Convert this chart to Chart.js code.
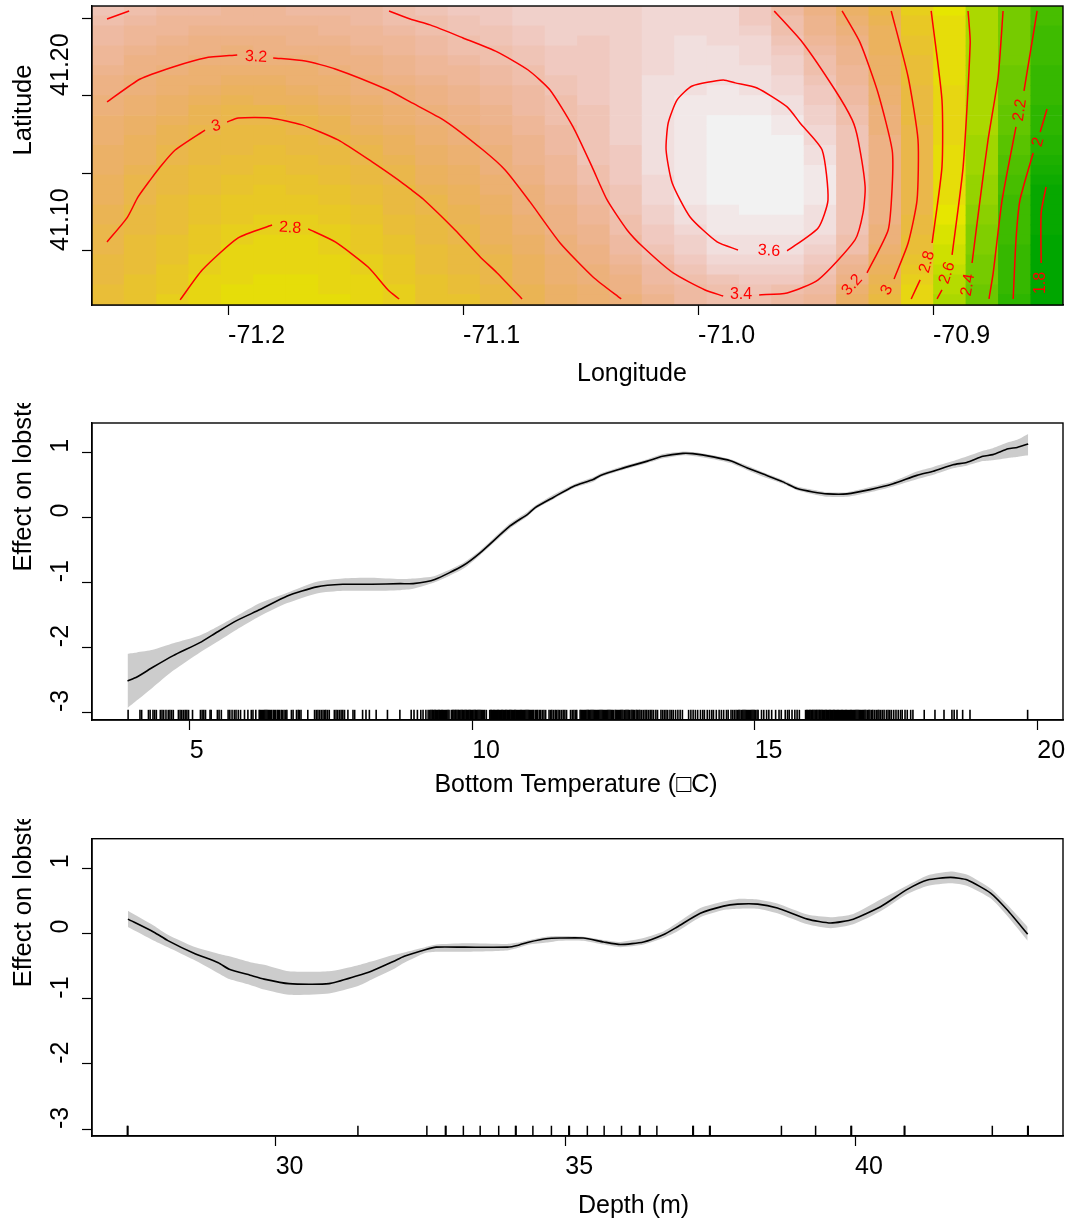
<!DOCTYPE html>
<html>
<head>
<meta charset="utf-8">
<title>Lobster GAM effects</title>
<script src="https://cdn.jsdelivr.net/npm/chart.js@4"></script>
<style>
    body { margin: 0; background: #fff; }
    canvas { position: absolute; left: 0; display: block; }
</style>
</head>
<body>
<canvas id="mapChart" width="1068" height="395" style="top:0"></canvas>
<canvas id="tempChart" width="1068" height="402" style="top:403px"></canvas>
<canvas id="depthChart" width="1068" height="403" style="top:819px"></canvas>
<script>
// grid of the map, cell centres
const lonGrid = [-71.2510, -71.2372, -71.2234, -71.2097, -71.1959, -71.1821, -71.1683, -71.1545, -71.1408, -71.1270, -71.1132, -71.0994, -71.0857, -71.0719, -71.0581, -71.0443, -71.0305, -71.0168, -71.0030, -70.9892, -70.9754, -70.9617, -70.9479, -70.9341, -70.9203, -70.9065, -70.8928, -70.8790, -70.8652, -70.8514];
const latGrid = [41.2548, 41.2484, 41.2420, 41.2355, 41.2291, 41.2227, 41.2163, 41.2098, 41.2034, 41.1970, 41.1906, 41.1841, 41.1777, 41.1713, 41.1649, 41.1584, 41.1520, 41.1456, 41.1392, 41.1327, 41.1263, 41.1199, 41.1135, 41.1070, 41.1006, 41.0942, 41.0878, 41.0813, 41.0749, 41.0685];

// one row per longitude, north to south
const effectGrid = [
    [3.42,3.40,3.37,3.35,3.32,3.30,3.27,3.25,3.23,3.20,3.19,3.17,3.16,3.15,3.13,3.12,3.10,3.09,3.07,3.06,3.05,3.03,3.02,3.00,2.99,2.98,2.96,2.95,2.93,2.92],
    [3.39,3.36,3.33,3.31,3.28,3.25,3.22,3.20,3.18,3.16,3.14,3.13,3.11,3.09,3.07,3.06,3.04,3.02,3.01,2.99,2.98,2.97,2.96,2.94,2.93,2.92,2.91,2.89,2.88,2.87],
    [3.36,3.33,3.30,3.27,3.25,3.22,3.19,3.17,3.15,3.12,3.10,3.07,3.05,3.03,3.00,2.99,2.98,2.97,2.96,2.94,2.93,2.92,2.91,2.90,2.88,2.87,2.86,2.85,2.84,2.82],
    [3.34,3.31,3.28,3.25,3.22,3.19,3.16,3.14,3.11,3.08,3.05,3.03,3.00,2.98,2.97,2.95,2.94,2.92,2.91,2.90,2.88,2.87,2.85,2.84,2.83,2.81,2.80,2.78,2.77,2.76],
    [3.33,3.30,3.27,3.24,3.21,3.18,3.15,3.12,3.09,3.05,3.02,3.00,2.98,2.96,2.95,2.93,2.91,2.90,2.88,2.86,2.84,2.83,2.81,2.80,2.78,2.77,2.76,2.75,2.74,2.73],
    [3.33,3.30,3.27,3.25,3.22,3.19,3.15,3.12,3.09,3.06,3.02,3.00,2.97,2.96,2.94,2.92,2.90,2.88,2.86,2.85,2.83,2.81,2.79,2.78,2.77,2.76,2.75,2.73,2.72,2.71],
    [3.34,3.31,3.29,3.26,3.23,3.20,3.17,3.14,3.11,3.08,3.04,3.01,2.99,2.97,2.95,2.93,2.91,2.89,2.87,2.85,2.83,2.81,2.79,2.78,2.77,2.76,2.75,2.74,2.73,2.72],
    [3.35,3.33,3.30,3.28,3.25,3.22,3.19,3.17,3.14,3.11,3.08,3.05,3.03,3.00,2.98,2.96,2.94,2.92,2.90,2.88,2.86,2.84,2.82,2.80,2.79,2.78,2.77,2.76,2.75,2.74],
    [3.37,3.35,3.33,3.30,3.28,3.25,3.23,3.20,3.18,3.15,3.13,3.10,3.07,3.05,3.02,3.00,2.98,2.96,2.94,2.92,2.90,2.88,2.86,2.85,2.83,2.81,2.79,2.78,2.77,2.76],
    [3.41,3.38,3.36,3.33,3.31,3.28,3.26,3.24,3.21,3.19,3.16,3.14,3.12,3.09,3.07,3.05,3.02,3.00,2.98,2.96,2.95,2.93,2.91,2.90,2.88,2.86,2.85,2.83,2.81,2.80],
    [3.43,3.41,3.39,3.37,3.34,3.32,3.30,3.28,3.25,3.23,3.20,3.18,3.16,3.14,3.12,3.10,3.08,3.06,3.04,3.01,2.99,2.98,2.96,2.95,2.93,2.92,2.91,2.90,2.88,2.87],
    [3.46,3.44,3.42,3.40,3.38,3.35,3.33,3.31,3.29,3.27,3.25,3.23,3.20,3.19,3.17,3.15,3.13,3.11,3.09,3.07,3.05,3.04,3.02,3.00,2.98,2.97,2.95,2.93,2.91,2.90],
    [3.49,3.47,3.45,3.43,3.40,3.38,3.36,3.35,3.33,3.31,3.29,3.27,3.25,3.23,3.21,3.20,3.18,3.16,3.14,3.13,3.11,3.09,3.07,3.06,3.04,3.02,3.00,2.99,2.97,2.96],
    [3.52,3.50,3.48,3.46,3.44,3.42,3.40,3.38,3.37,3.35,3.34,3.32,3.31,3.29,3.28,3.26,3.24,3.23,3.21,3.20,3.18,3.16,3.15,3.13,3.11,3.09,3.08,3.06,3.04,3.03],
    [3.53,3.52,3.51,3.50,3.49,3.47,3.46,3.44,3.42,3.41,3.40,3.38,3.37,3.35,3.34,3.33,3.31,3.30,3.28,3.27,3.25,3.24,3.22,3.20,3.19,3.17,3.15,3.14,3.12,3.10],
    [3.52,3.51,3.50,3.48,3.48,3.47,3.47,3.47,3.46,3.46,3.45,3.45,3.44,3.44,3.43,3.42,3.40,3.38,3.36,3.34,3.32,3.30,3.29,3.27,3.25,3.23,3.21,3.19,3.17,3.16],
    [3.53,3.53,3.53,3.53,3.53,3.53,3.53,3.53,3.53,3.52,3.52,3.52,3.51,3.51,3.47,3.47,3.47,3.46,3.45,3.44,3.42,3.41,3.39,3.36,3.34,3.31,3.28,3.25,3.22,3.20],
    [3.55,3.55,3.56,3.56,3.57,3.57,3.57,3.58,3.58,3.58,3.58,3.58,3.59,3.59,3.59,3.58,3.58,3.57,3.56,3.55,3.53,3.51,3.49,3.47,3.44,3.40,3.37,3.34,3.30,3.27],
    [3.55,3.56,3.57,3.58,3.58,3.59,3.59,3.60,3.61,3.62,3.63,3.64,3.65,3.65,3.65,3.65,3.65,3.64,3.63,3.62,3.61,3.59,3.56,3.53,3.50,3.46,3.43,3.41,3.37,3.34],
    [3.54,3.55,3.56,3.57,3.58,3.58,3.59,3.60,3.62,3.63,3.65,3.66,3.67,3.68,3.68,3.68,3.68,3.68,3.67,3.66,3.65,3.64,3.62,3.61,3.58,3.54,3.50,3.45,3.41,3.39],
    [3.47,3.49,3.52,3.54,3.56,3.57,3.58,3.59,3.61,3.63,3.65,3.66,3.67,3.68,3.69,3.69,3.69,3.69,3.69,3.68,3.67,3.65,3.63,3.61,3.60,3.55,3.50,3.46,3.42,3.40],
    [3.35,3.38,3.41,3.44,3.47,3.50,3.52,3.54,3.56,3.58,3.61,3.62,3.64,3.66,3.67,3.68,3.68,3.68,3.68,3.67,3.66,3.64,3.63,3.61,3.60,3.56,3.51,3.46,3.41,3.37],
    [3.24,3.26,3.29,3.32,3.35,3.38,3.41,3.44,3.46,3.49,3.51,3.53,3.55,3.57,3.60,3.61,3.62,3.62,3.62,3.62,3.61,3.61,3.58,3.55,3.51,3.47,3.43,3.39,3.35,3.31],
    [3.13,3.17,3.21,3.24,3.26,3.28,3.30,3.33,3.35,3.37,3.38,3.40,3.42,3.43,3.44,3.45,3.45,3.45,3.45,3.45,3.44,3.43,3.42,3.41,3.38,3.33,3.28,3.22,3.16,3.10],
    [3.02,3.04,3.06,3.07,3.09,3.10,3.12,3.13,3.15,3.16,3.18,3.20,3.21,3.22,3.23,3.24,3.24,3.24,3.24,3.23,3.23,3.22,3.21,3.19,3.16,3.13,3.09,3.05,3.00,2.96],
    [2.82,2.84,2.86,2.88,2.90,2.91,2.93,2.94,2.95,2.96,2.97,2.98,3.00,3.01,3.01,3.01,3.02,3.01,3.01,3.00,2.99,2.98,2.96,2.94,2.92,2.89,2.86,2.82,2.78,2.75],
    [2.70,2.71,2.71,2.72,2.72,2.73,2.73,2.74,2.75,2.75,2.75,2.75,2.75,2.75,2.74,2.74,2.73,2.73,2.72,2.71,2.70,2.68,2.66,2.64,2.62,2.60,2.57,2.54,2.52,2.50],
    [2.50,2.50,2.50,2.50,2.50,2.50,2.49,2.49,2.49,2.48,2.48,2.48,2.47,2.46,2.45,2.44,2.43,2.42,2.41,2.39,2.38,2.37,2.35,2.34,2.33,2.31,2.30,2.29,2.27,2.26],
    [2.31,2.30,2.30,2.29,2.29,2.28,2.27,2.26,2.25,2.24,2.23,2.22,2.20,2.19,2.18,2.15,2.13,2.11,2.08,2.07,2.06,2.05,2.04,2.04,2.03,2.02,2.01,2.00,2.00,1.99],
    [2.09,2.08,2.07,2.06,2.05,2.04,2.03,2.02,2.01,2.00,1.99,1.97,1.96,1.94,1.92,1.89,1.85,1.81,1.79,1.78,1.77,1.76,1.76,1.75,1.75,1.74,1.74,1.73,1.73,1.72]
];

// contour pieces as [lon, lat], split where a label sits on the line
const contourLines = [
    [[-71.2204,41.0684],[-71.2110,41.0877],[-71.1957,41.1084],[-71.1813,41.1167]],
    [[-71.1659,41.1142],[-71.1544,41.1058],[-71.1404,41.0896],[-71.1319,41.0748],[-71.1272,41.0690]],
    [[-71.2515,41.1058],[-71.2430,41.1213],[-71.2383,41.1348],[-71.2330,41.1460],[-71.2290,41.1540],[-71.2225,41.1651],[-71.2098,41.1780]],
    [[-71.2004,41.1832],[-71.1957,41.1858],[-71.1821,41.1858],[-71.1685,41.1813],[-71.1532,41.1716],[-71.1387,41.1574],[-71.1276,41.1458],[-71.1225,41.1400],[-71.1170,41.1335],[-71.1034,41.1135],[-71.0927,41.0961],[-71.0855,41.0858],[-71.0749,41.0690]],
    [[-71.2515,41.1961],[-71.2374,41.2109],[-71.2234,41.2187],[-71.2098,41.2245],[-71.1961,41.2264]],
    [[-71.1808,41.2245],[-71.1672,41.2225],[-71.1544,41.2174],[-71.1319,41.2038],[-71.1225,41.1961],[-71.1076,41.1838],[-71.0915,41.1651],[-71.0821,41.1522],[-71.0715,41.1316],[-71.0587,41.1051],[-71.0447,41.0832],[-71.0327,41.0690]],
    [[-71.2515,41.2496],[-71.2421,41.2548]],
    [[-71.1315,41.2548],[-71.1225,41.2496],[-71.1140,41.2458],[-71.1000,41.2374],[-71.0855,41.2284],[-71.0723,41.2167],[-71.0630,41.2038],[-71.0532,41.1800],[-71.0451,41.1542],[-71.0387,41.1329],[-71.0302,41.1135],[-71.0234,41.1025],[-71.0106,41.0858],[-70.9970,41.0748],[-70.9893,41.0709]],
    [[-70.9740,41.0716],[-70.9621,41.0729],[-70.9489,41.0813],[-70.9332,41.1071],[-70.9298,41.1245],[-70.9289,41.1413],[-70.9319,41.1716],[-70.9344,41.1845],[-70.9417,41.2038],[-70.9557,41.2348],[-70.9676,41.2548]],
    [[-70.9621,41.1000],[-70.9489,41.1148],[-70.9447,41.1329],[-70.9472,41.1651],[-70.9566,41.1825],[-70.9621,41.1929],[-70.9749,41.2051],[-70.9842,41.2084],[-70.9893,41.2103],[-71.0025,41.2064],[-71.0089,41.1974],[-71.0127,41.1825],[-71.0136,41.1651],[-71.0110,41.1438],[-71.0034,41.1219],[-70.9919,41.1058],[-70.9830,41.1006]],
    [[-70.9387,41.2548],[-70.9310,41.2342],[-70.9234,41.2019],[-70.9174,41.1651],[-70.9174,41.1413],[-70.9191,41.1135],[-70.9281,41.0858]],
    [[-70.9178,41.2548],[-70.9106,41.2122],[-70.9064,41.1716],[-70.9068,41.1329],[-70.9106,41.1051],[-70.9166,41.0819]],
    [[-70.9008,41.2548],[-70.8962,41.1974],[-70.8962,41.1542],[-70.9004,41.1051]],
    [[-70.9055,41.0813],[-70.9093,41.0690]],
    [[-70.8851,41.2548],[-70.8842,41.2342],[-70.8872,41.1542],[-70.8919,41.0974]],
    [[-70.8962,41.0748],[-70.8983,41.0690]],
    [[-70.8702,41.2548],[-70.8723,41.2122],[-70.8766,41.1716],[-70.8800,41.1329],[-70.8834,41.0922]],
    [[-70.8557,41.2548],[-70.8613,41.2032]],
    [[-70.8647,41.1800],[-70.8706,41.1329],[-70.8744,41.0858],[-70.8762,41.0690]],
    [[-70.8515,41.1916],[-70.8544,41.1767]],
    [[-70.8574,41.1632],[-70.8630,41.1329],[-70.8647,41.1071],[-70.8659,41.0690]],
    [[-70.8519,41.1413],[-70.8540,41.1245],[-70.8540,41.0922]]
];

const contourText = ['3.2', '3', '2.8', '3.6', '3.4', '3.2', '3', '2.8', '2.6', '2.4', '2.2', '2', '1.8'];
const contourLon = [-71.1881, -71.2051, -71.1736, -70.9698, -70.9817, -70.9344, -70.9196, -70.9025, -70.8940, -70.8851, -70.8630, -70.8553, -70.8544];
const contourLat = [41.2251, 41.1806, 41.1148, 41.1000, 41.0716, 41.0780, 41.0748, 41.0929, 41.0858, 41.0780, 41.1909, 41.1703, 41.0793];
const contourAngle = [3, -15, 4, 4, 0, -48, -62, -75, -72, -80, -82, -75, -90];

const lonTicks = [-71.2, -71.1, -71.0, -70.9];
const latTicks = [41.25, 41.20, 41.15, 41.10];
const latLabelled = [41.20, 41.10];

// bottom temperature panel
const tempX = [3.90, 4.066, 4.347, 4.709, 5.18, 5.48, 5.83, 6.245, 6.727, 7.25, 7.71, 8.22, 8.724, 8.955, 9.337, 9.84, 10.14, 10.67, 10.98, 11.11, 11.435, 11.79, 12.14, 12.27, 12.62, 13.10, 13.37, 13.73, 13.905, 14.265, 14.57, 14.87, 15.15, 15.50, 15.75, 16.03, 16.29, 16.635, 17.04, 17.45, 17.87, 18.16, 18.51, 18.75, 19.04, 19.215, 19.485, 19.645, 19.84];
const tempFit = [-2.52, -2.46, -2.31, -2.13, -1.93, -1.77, -1.59, -1.42, -1.21, -1.07, -1.03, -1.03, -1.02, -1.02, -.955, -.74, -.545, -.13, .05, .15, .31, .48, .585, .65, .75, .87, .945, .99, .985, .935, .875, .765, .67, .55, .447, .395, .365, .365, .43, .52, .65, .715, .815, .85, .945, .97, 1.06, 1.08, 1.135];
const tempUpper = [-2.10, -2.08, -2.04, -1.94, -1.82, -1.69, -1.52, -1.32, -1.16, -.99, -.94, -.93, -.95, -.94, -.90, -.70, -.51, -.09, .09, .18, .35, .51, .62, .68, .78, .90, .98, 1.02, 1.01, .96, .90, .80, .70, .58, .48, .43, .39, .39, .47, .56, .71, .78, .87, .94, 1.03, 1.07, 1.16, 1.20, 1.29];
const tempLower = [-2.94, -2.82, -2.62, -2.36, -2.08, -1.92, -1.73, -1.52, -1.32, -1.17, -1.13, -1.13, -1.12, -1.10, -1.00, -.79, -.58, -.17, .02, .12, .28, .45, .55, .62, .72, .84, .91, .96, .95, .90, .84, .73, .63, .52, .42, .36, .32, .32, .39, .48, .59, .66, .76, .80, .87, .885, .92, .935, .96];
const tempRug = [3.91, 4.12, 4.15, 4.27, 4.30, 4.35, 4.38, 4.41, 4.48, 4.51, 4.54, 4.58, 4.62, 4.65, 4.68, 4.71, 4.80, 4.83, 4.86, 4.89, 4.92, 4.95, 4.98, 5.05, 5.19, 5.22, 5.25, 5.28, 5.36, 5.38, 5.49, 5.52, 5.56, 5.68, 5.71, 5.75, 5.79, 5.82, 5.86, 5.90, 5.97, 6.03, 6.09, 6.12, 6.17, 6.23, 6.25, 6.27, 6.29, 6.31, 6.33, 6.35, 6.37, 6.39, 6.41, 6.43, 6.45, 6.48, 6.50, 6.52, 6.55, 6.57, 6.59, 6.62, 6.64, 6.67, 6.70, 6.72, 6.80, 6.83, 6.89, 6.92, 6.94, 6.97, 7.09, 7.21, 7.24, 7.27, 7.30, 7.33, 7.36, 7.39, 7.41, 7.44, 7.47, 7.56, 7.59, 7.62, 7.65, 7.68, 7.71, 7.74, 7.80, 7.89, 7.92, 8.06, 8.12, 8.18, 8.30, 8.50, 8.72, 8.92, 8.97, 9.03, 9.09, 9.13, 9.18, 9.22, 9.25,
    9.27, 9.29, 9.30, 9.32, 9.34, 9.35, 9.37, 9.39, 9.41, 9.42, 9.44, 9.46, 9.47, 9.49, 9.51, 9.53, 9.55, 9.57, 9.59, 9.63, 9.65, 9.66, 9.68, 9.70, 9.71, 9.73, 9.75, 9.76, 9.78, 9.80, 9.82, 9.83, 9.85, 9.87, 9.89, 9.90, 9.92, 9.94, 9.96, 9.97, 9.99, 10.01, 10.03, 10.05, 10.06, 10.08, 10.10, 10.12, 10.14, 10.16, 10.18, 10.20, 10.22, 10.25,
    10.31, 10.33, 10.34, 10.36, 10.38, 10.39, 10.41, 10.43, 10.45, 10.46, 10.48, 10.50, 10.52, 10.53, 10.55, 10.57, 10.59, 10.60, 10.62, 10.64, 10.66, 10.67, 10.69, 10.71, 10.73, 10.75, 10.76, 10.78, 10.80, 10.82, 10.84, 10.86, 10.87, 10.89, 10.91, 10.93, 10.95, 10.97, 10.99, 11.01, 11.03, 11.05, 11.07, 11.09, 11.12, 11.14, 11.16, 11.19, 11.21, 11.24, 11.27, 11.30,
    11.36, 11.39, 11.41, 11.44, 11.47, 11.49, 11.52, 11.55, 11.58, 11.61, 11.64, 11.67, 11.74, 11.77, 11.80, 11.83, 11.85, 11.91, 11.93, 11.95, 11.97, 11.99, 12.01, 12.03, 12.05, 12.06, 12.08, 12.10, 12.12, 12.14, 12.16, 12.18, 12.20, 12.22, 12.24, 12.26, 12.28, 12.30, 12.32, 12.34, 12.36, 12.38, 12.40, 12.42, 12.44, 12.46, 12.48, 12.50, 12.53, 12.55, 12.57, 12.59, 12.61, 12.63, 12.65, 12.67, 12.70, 12.72, 12.74, 12.76, 12.78, 12.81, 12.83, 12.85, 12.87, 12.90, 12.92, 12.95, 12.97, 13.00, 13.03, 13.06, 13.09, 13.12, 13.15, 13.18, 13.21, 13.25, 13.28,
    13.34, 13.37, 13.40, 13.43, 13.46, 13.50, 13.53, 13.56, 13.60, 13.64, 13.68, 13.72, 13.83, 13.87, 13.91, 13.95, 13.99, 14.04, 14.08, 14.11, 14.16, 14.20, 14.24, 14.27, 14.32, 14.37, 14.41, 14.45, 14.50, 14.53, 14.58, 14.61, 14.64, 14.67, 14.70, 14.72, 14.74, 14.77, 14.79, 14.81, 14.83, 14.85, 14.87, 14.89, 14.91, 14.93, 14.95, 14.97, 14.99, 15.01, 15.04, 15.06, 15.12, 15.16, 15.21, 15.25, 15.30, 15.37, 15.43, 15.47, 15.54, 15.58, 15.61, 15.66, 15.71, 15.75, 15.79,
    15.90, 15.92, 15.93, 15.95, 15.97, 15.98, 16.00, 16.02, 16.03, 16.05, 16.07, 16.09, 16.10, 16.12, 16.14, 16.15, 16.17, 16.19, 16.20, 16.22, 16.24, 16.26, 16.27, 16.29, 16.31, 16.33, 16.34, 16.36, 16.38, 16.40, 16.41, 16.43, 16.45, 16.47, 16.48, 16.50, 16.52, 16.54, 16.55, 16.57, 16.59, 16.61, 16.62, 16.64, 16.66, 16.68, 16.70, 16.71, 16.73, 16.75, 16.77, 16.79, 16.81, 16.83, 16.85, 16.87, 16.89, 16.91, 16.93, 16.95, 16.97, 17.00, 17.02, 17.04, 17.07, 17.09, 17.12, 17.15, 17.18, 17.20, 17.23, 17.26, 17.29, 17.33, 17.36, 17.39, 17.42, 17.46, 17.50,
    17.54, 17.58, 17.61, 17.66, 17.70, 17.76, 17.80, 18.00, 18.19, 18.35, 18.49, 18.53, 18.58, 18.68, 18.81, 19.83];
const tempTicks = [5, 10, 15, 20];

// depth panel
const depthX = [27.45, 27.90, 28.14, 28.58, 29.01, 29.20, 29.56, 29.80, 30.23, 30.92, 31.41, 31.65, 32.03, 32.22, 32.58, 32.77, 33.26, 34.00, 34.19, 34.38, 34.67, 34.91, 35.31, 35.66, 35.95, 36.35, 36.69, 36.93, 37.33, 37.73, 37.97, 38.32, 38.66, 39.18, 39.58, 39.97, 40.44, 40.91, 41.25, 41.65, 41.94, 42.34, 42.63, 42.98];
const depthFit = [.22, .02, -.11, -.30, -.45, -.55, -.64, -.70, -.77, -.77, -.65, -.58, -.43, -.35, -.25, -.21, -.21, -.21, -.18, -.13, -.08, -.07, -.07, -.13, -.17, -.13, -.02, .10, .31, .42, .45, .45, .39, .22, .16, .22, .41, .68, .82, .86, .82, .62, .36, -.01];
const depthUpper = [.35, .12, -.02, -.20, -.31, -.35, -.44, -.48, -.58, -.58, -.49, -.43, -.33, -.29, -.21, -.17, -.15, -.16, -.14, -.10, -.05, -.04, -.05, -.10, -.13, -.07, .03, .16, .39, .49, .53, .52, .46, .29, .25, .30, .52, .74, .89, .95, .90, .69, .44, .10];
const depthLower = [.10, -.11, -.21, -.40, -.61, -.70, -.79, -.86, -.94, -.92, -.81, -.71, -.55, -.45, -.30, -.28, -.28, -.26, -.22, -.17, -.14, -.11, -.11, -.17, -.21, -.17, -.07, .03, .25, .36, .38, .38, .31, .14, .08, .14, .34, .61, .73, .77, .73, .54, .27, -.11];
const depthRug = [27.44, 27.45, 31.42, 32.61, 32.93, 32.94, 33.24, 33.53, 33.85, 34.14, 34.15, 34.44, 34.76, 35.06, 35.07, 35.38, 35.67, 35.97, 36.28, 36.29, 36.58, 37.20, 37.21, 37.49, 37.50, 38.73, 39.32, 39.93, 39.94, 40.85, 40.86, 42.37, 42.98, 42.99];
const depthTicks = [30, 35, 40];
const effectTicks = [-3, -2, -1, 0, 1];

Chart.defaults.font.family = '"Liberation Sans", Arial, sans-serif';
Chart.defaults.font.size = 25;
Chart.defaults.color = '#000';
Chart.defaults.animation = false;

// same thing as R terrain.colors(50)
function hsv(h, s, v) {
    let f = n => {
        let k = (n + h * 6) % 6;
        return Math.round(255 * (v - v * s * Math.max(0, Math.min(k, 4 - k, 1))));
    };
    return `rgb(${f(5)}, ${f(3)}, ${f(1)})`;
}

function terrainColors() {
    let cols = [];
    for (let i = 0; i < 25; i++) {
        cols.push(hsv(4 / 12 - (2 / 12) * i / 24, 1, 0.65 + 0.25 * i / 24));
    }
    for (let i = 1; i <= 25; i++) {
        cols.push(hsv(2 / 12 - (2 / 12) * i / 25, 1 - i / 25, 0.9 + 0.05 * i / 25));
    }
    return cols;
}

function heatCells() {
    let cols = terrainColors();
    let zs = effectGrid.flat();
    let zMin = Math.min(...zs), zMax = Math.max(...zs);
    let cells = [], colors = [];
    lonGrid.forEach((lon, i) => {
        latGrid.forEach((lat, j) => {
            let z = effectGrid[i][j];
            let k = Math.min(49, Math.floor((z - zMin) / (zMax - zMin) * 50));
            cells.push({x: lon, y: [lat - 0.00325, lat + 0.00325]});
            colors.push(cols[k]);
        });
    });
    return {cells, colors};
}

function pairs(xs, ys) {
    return xs.map((x, i) => ({x: x, y: ys[i]}));
}

// box round the plot and the axis titles, which sit from the middle of the axis
const panelDecor = {
    id: 'panelDecor',
    afterDraw(chart, args, opts) {
        let ctx = chart.ctx;
        let a = chart.chartArea;
        ctx.save();
        ctx.strokeStyle = '#000';
        ctx.lineWidth = 1.4;
        ctx.strokeRect(a.left, a.top, a.right - a.left, a.bottom - a.top);
        ctx.fillStyle = '#000';
        ctx.font = '25px "Liberation Sans", Arial, sans-serif';
        ctx.textBaseline = 'alphabetic';
        ctx.textAlign = opts.xAlign || 'left';
        ctx.fillText(opts.xTitle, opts.xTitleAt, opts.xTitleBase);
        ctx.translate(31, (a.top + a.bottom) / 2);
        ctx.rotate(-Math.PI / 2);
        ctx.textAlign = 'left';
        ctx.font = '25.6px "Liberation Sans", Arial, sans-serif';
        ctx.fillText(opts.yTitle, 0, 0);
        ctx.restore();
    }
};

const contourTags = {
    id: 'contourTags',
    afterDatasetsDraw(chart) {
        let ctx = chart.ctx;
        ctx.save();
        ctx.fillStyle = '#ff0000';
        ctx.font = '16px "Liberation Sans", Arial, sans-serif';
        ctx.textAlign = 'center';
        ctx.textBaseline = 'middle';
        contourText.forEach((t, i) => {
            ctx.save();
            ctx.translate(chart.scales.x.getPixelForValue(contourLon[i]), chart.scales.y.getPixelForValue(contourLat[i]));
            ctx.rotate(contourAngle[i] * Math.PI / 180);
            ctx.fillText(t, 0, 0);
            ctx.restore();
        });
        ctx.restore();
    }
};

function noPadding(scale) {
    scale.paddingLeft = 0;
    scale.paddingRight = 0;
    scale.paddingTop = 0;
    scale.paddingBottom = 0;
}

function panelScales(xMin, xMax, xTicks, xFmt, xHeight, yMin, yMax, yTicks, yFmt) {
    const grid = {drawOnChartArea: false, offset: false, color: '#000', tickColor: '#000', tickLength: 10, tickWidth: 1.2};
    const border = {color: '#000', width: 1.4};
    return {
        x: {
            type: 'linear', min: xMin, max: xMax, offset: false, grid: grid, border: border,
            afterBuildTicks(scale) { scale.ticks = xTicks.map(v => ({value: v})); },
            afterFit(scale) { scale.height = xHeight; noPadding(scale); },
            ticks: {align: 'start', padding: 6, maxRotation: 0, minRotation: 0, autoSkip: false, color: '#000', callback: xFmt}
        },
        y: {
            type: 'linear', min: yMin, max: yMax, grid: grid, border: border,
            afterBuildTicks(scale) { scale.ticks = yTicks.map(v => ({value: v})); },
            afterFit(scale) {
                scale.width = 31;
                noPadding(scale);
                // labels stand left of the narrow axis box, do not clip them to it
                scale._computeLabelArea = () => undefined;
            },
            ticks: {minRotation: 90, maxRotation: 90, crossAlign: 'far', autoSkip: false, color: '#000', callback: yFmt}
        }
    };
}

function curvePanel(id, topPad, xHeight, xMin, xMax, xTicks, yMin, yMax, xs, fit, upper, lower, rug, rugY, rugWidth, decor) {
    let ctx = document.getElementById(id).getContext('2d');
    return new Chart(ctx, {
        type: 'line',
        data: {
            datasets: [
                {data: pairs(xs, fit), borderColor: '#000', borderWidth: 1.6, pointRadius: 0, tension: 0.2, order: 1},
                {type: 'scatter', data: rug.map(v => ({x: v, y: rugY})), pointStyle: 'line', rotation: 90, radius: 5.2, borderColor: '#000', borderWidth: rugWidth, order: 2},
                {data: pairs(xs, upper), borderWidth: 0, pointRadius: 0, tension: 0.2, fill: '+1', backgroundColor: '#cccccc', order: 3},
                {data: pairs(xs, lower), borderWidth: 0, pointRadius: 0, tension: 0.2, order: 4}
            ]
        },
        options: {
            responsive: false,
            layout: {autoPadding: false, padding: {left: 61, right: 5, top: topPad, bottom: 0}},
            scales: panelScales(xMin, xMax, xTicks, v => String(v), xHeight, yMin, yMax, effectTicks, v => String(v)),
            plugins: {legend: {display: false}, tooltip: {enabled: false}, panelDecor: decor}
        },
        plugins: [panelDecor]
    });
}

function mapPanel(id) {
    let heat = heatCells();
    let datasets = contourLines.map(seg => ({
        data: seg.map(p => ({x: p[0], y: p[1]})),
        borderColor: '#ff0000', borderWidth: 1.5, pointRadius: 0, tension: 0.2, order: 1
    }));
    datasets.push({
        type: 'bar', data: heat.cells, backgroundColor: heat.colors, borderWidth: 0,
        barThickness: 32.9, grouped: false, order: 5
    });
    let ctx = document.getElementById(id).getContext('2d');
    return new Chart(ctx, {
        type: 'line',
        data: {datasets: datasets},
        options: {
            responsive: false,
            layout: {autoPadding: false, padding: {left: 61, right: 5, top: 6, bottom: 0}},
            scales: panelScales(-71.2579, -70.8447, lonTicks, v => v.toFixed(1), 90,
                41.0651, 41.2580, latTicks, v => latLabelled.includes(v) ? v.toFixed(2) : ''),
            plugins: {
                legend: {display: false}, tooltip: {enabled: false},
                panelDecor: {xTitle: 'Longitude', xTitleAt: 577, xTitleBase: 381, yTitle: 'Latitude'}
            }
        },
        plugins: [contourTags, panelDecor]
    });
}

mapPanel('mapChart');

curvePanel('tempChart', 20, 85, 3.271, 20.456, tempTicks, -3.123, 1.458,
    tempX, tempFit, tempUpper, tempLower, tempRug, -3.046, 1.6,
    {xTitle: 'Bottom Temperature (\u25A1C)', xAlign: 'center', xTitleAt: 576, xTitleBase: 389, yTitle: 'Effect on lobster'});

curvePanel('depthChart', 19.7, 86, 26.83, 43.59, depthTicks, -3.107, 1.454,
    depthX, depthFit, depthUpper, depthLower, depthRug, -3.03, 1.5,
    {xTitle: 'Depth (m)', xTitleAt: 578, xTitleBase: 394, yTitle: 'Effect on lobster'});
</script>
</body>
</html>
